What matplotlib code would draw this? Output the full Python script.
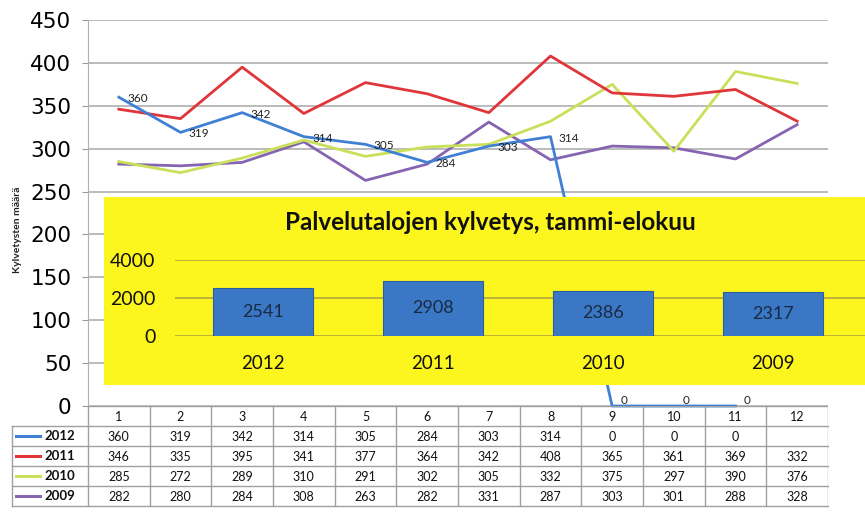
import matplotlib
matplotlib.use("Agg")
import matplotlib.pyplot as plt
from matplotlib.patches import Rectangle
import numpy as np

plt.rcParams['font.family'] = ['Lato', 'DejaVu Sans']

# ---- data ----
months = [1, 2, 3, 4, 5, 6, 7, 8, 9, 10, 11, 12]
series_names = ['2012', '2011', '2010', '2009']
s2012 = [360, 319, 342, 314, 305, 284, 303, 314, 0, 0, 0, None]
s2011 = [346, 335, 395, 341, 377, 364, 342, 408, 365, 361, 369, 332]
s2010 = [285, 272, 289, 310, 291, 302, 305, 332, 375, 297, 390, 376]
s2009 = [282, 280, 284, 308, 263, 282, 331, 287, 303, 301, 288, 328]
colors = ['#3f80d4', '#e0353a', '#c9e05a', '#8564b2']
y_ticks = [0, 50, 100, 150, 200, 250, 300, 350, 400, 450]

bar_years = ['2012', '2011', '2010', '2009']
bar_totals = [2541, 2908, 2386, 2317]
bar_ticks = [0, 2000, 4000]
inset_title = 'Palvelutalojen kylvetys, tammi-elokuu'
y_label = 'Kylvetysten määrä'

W, H = 865, 517
fig = plt.figure(figsize=(W / 100, H / 100), dpi=100)

def fx(px):
    return px / W

def fy(py):
    return (H - py) / H

# ---- main line chart ----
L, R, T, B = 88, 828, 20, 406
ax = fig.add_axes([fx(L), fy(B), fx(R) - fx(L), fy(T) - fy(B)])
ax.set_xlim(0.5, 12.5)
ax.set_ylim(0, 450)
ax.set_yticks(y_ticks)
ax.set_yticklabels([str(v) for v in y_ticks], family='DejaVu Sans', fontsize=15.5)
ax.tick_params(axis='y', length=4, color='#999999', pad=8)
ax.set_xticks([])
ax.yaxis.grid(True, color='#a8a8a8', lw=1.1)
ax.set_axisbelow(True)
for s in ['top', 'right', 'bottom']:
    ax.spines[s].set_visible(False)
ax.spines['left'].set_color('#b0b0b0')

all_series = [s2012, s2011, s2010, s2009]
for name, vals, c in reversed(list(zip(series_names, all_series, colors))):
    xs = [m for m, v in zip(months, vals) if v is not None]
    ys = [v for v in vals if v is not None]
    ax.plot(xs, ys, color=c, lw=2.0, clip_on=False, zorder=3 if name == '2012' else 2)

for m, v in zip(months, s2012):
    if v is None:
        continue
    off = (6, -1) if v > 0 else (6, 4)
    ax.annotate(str(v), (m, v), xytext=off, textcoords='offset points',
                ha='left', va='center', fontsize=8.5, color='#222222', zorder=4,
                annotation_clip=False)

fig.text(fx(18), fy(230), y_label, rotation=90, ha='center', va='center',
         fontsize=7.5, fontweight='bold', color='#222222')

# ---- data table ----
TL, TT, TB = 12, 406, 506
tax = fig.add_axes([fx(TL), fy(TB), fx(R) - fx(TL), fy(TT) - fy(TB)])
unit = (R - L) / 12.0
x0 = 0.5 - (L - TL) / unit
tax.set_xlim(x0, 12.5)
tax.set_ylim(5, 0)
tax.axis('off')
gc = '#a0a0a0'
for k in range(13):
    tax.plot([k + 0.5, k + 0.5], [0, 5], color=gc, lw=1)
tax.plot([x0, x0], [1, 5], color=gc, lw=1, clip_on=False)
tax.plot([0.5, 12.5], [0, 0], color=gc, lw=1)
for r in range(1, 6):
    tax.plot([x0, 12.5], [r, r], color=gc, lw=1, clip_on=False)
for m in months:
    tax.text(m, 0.55, str(m), ha='center', va='center', fontsize=9, color='#111111')
key_l = 0.5 - (L - 16) / unit
key_r = 0.5 - (L - 40) / unit
txt_l = 0.5 - (L - 44) / unit
for i, (name, vals, c) in enumerate(zip(series_names, all_series, colors)):
    ry = i + 1.5
    tax.plot([key_l, key_r], [ry, ry], color=c, lw=2.2)
    tax.text(txt_l, ry, name, ha='left', va='center', fontsize=9.5,
             fontweight='bold', color='#111111')
    for m, v in zip(months, vals):
        if v is None:
            continue
        tax.text(m, ry + 0.05, str(v), ha='center', va='center', fontsize=9,
                 color='#111111')

# ---- yellow inset box ----
box = Rectangle((fx(104), fy(385)), fx(865) - fx(104), fy(197) - fy(385),
                transform=fig.transFigure, facecolor='#fdf51e', edgecolor='none',
                zorder=5)
fig.add_artist(box)
fig.text(fx(490), fy(222), inset_title, ha='center', va='center', fontsize=17.5,
         fontweight='bold', color='#111111', zorder=6)

IL, IR, IT, IB = 175, 865, 260, 336
iax = fig.add_axes([fx(IL), fy(IB), fx(IR) - fx(IL), fy(IT) - fy(IB)])
iax.set_zorder(10)
iax.patch.set_alpha(0)
spacing = 170.0
c0 = 263.0
iax.set_xlim((IL - c0) / spacing, (IR - c0) / spacing)
iax.set_ylim(0, 4000)
xpos = np.arange(len(bar_years))
iax.bar(xpos, bar_totals, width=100 / spacing, color='#3a78c6',
        edgecolor='#2a5d9e', lw=0.8, zorder=3)
for xb, v in zip(xpos, bar_totals):
    iax.text(xb, v / 2, str(v), ha='center', va='center', fontsize=13,
             color='#1a2a40', zorder=4)
iax.set_yticks(bar_ticks)
iax.set_yticklabels([str(v) for v in bar_ticks], fontsize=14)
iax.set_xticks(xpos)
iax.set_xticklabels(bar_years, fontsize=13.5)
iax.tick_params(axis='both', length=0, colors='#111111')
iax.tick_params(axis='y', pad=14)
iax.tick_params(axis='x', pad=14)
iax.yaxis.grid(True, color='#a9a040', lw=1.1)
iax.set_axisbelow(True)
for s in iax.spines.values():
    s.set_visible(False)

fig.savefig('out.png', dpi=100)
